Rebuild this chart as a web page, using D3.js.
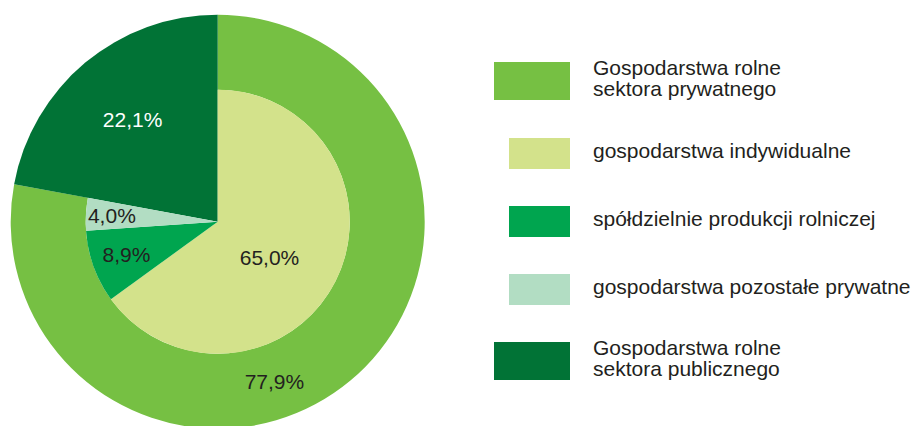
<!DOCTYPE html>
<html>
<head>
<meta charset="utf-8">
<script src="https://cdn.jsdelivr.net/npm/d3@7"></script>
<style>
  html, body { margin: 0; padding: 0; background: #fff; }
  svg { display: block; font-family: "Liberation Sans", Arial, Helvetica, sans-serif; }
</style>
</head>
<body>
<svg id="chart" width="915" height="426"></svg>
<script>
// outer ring: sectors
const sectorNames = ["Gospodarstwa rolne sektora prywatnego", "Gospodarstwa rolne sektora publicznego"];
const sectorValues = [77.9, 22.1];
const sectorLabels = ["77,9%", "22,1%"];

// inner pie: split of the private sector
const privateNames = ["gospodarstwa indywidualne", "spółdzielnie produkcji rolniczej", "gospodarstwa pozostałe prywatne"];
const privateValues = [65.0, 8.9, 4.0];
const privateLabels = ["65,0%", "8,9%", "4,0%"];

// legend lines, top to bottom
const legendLines = [
  ["Gospodarstwa rolne", "sektora prywatnego"],
  ["gospodarstwa indywidualne"],
  ["spółdzielnie produkcji rolniczej"],
  ["gospodarstwa pozostałe prywatne"],
  ["Gospodarstwa rolne", "sektora publicznego"]
];

const colors = {
  private: "#76c043",
  public: "#017336",
  indiv: "#d3e28b",
  coop: "#00a54f",
  other: "#b2ddc3"
};
const textColor = "#231f20";

const svg = d3.select("#chart");
const cx = 217.7, cy = 221.7;
const rOuter = 207, rInner = 132;

const g = svg.append("g").attr("transform", `translate(${cx},${cy})`);

const outerPie = d3.pie().sort(null).value(d => d)(sectorValues);
const innerPie = d3.pie().sort(null)
  .startAngle(0)
  .endAngle(outerPie[0].endAngle)
  .value(d => d)(privateValues);

// private sector ring
const ringArc = d3.arc().innerRadius(rInner).outerRadius(rOuter);
g.append("path")
  .attr("d", ringArc(outerPie[0]))
  .attr("fill", colors.private);

// public sector, full radius
const fullArc = d3.arc().innerRadius(0).outerRadius(rOuter);
g.append("path")
  .attr("d", fullArc(outerPie[1]))
  .attr("fill", colors.public);

// inner slices
const innerColors = [colors.indiv, colors.coop, colors.other];
const innerArc = d3.arc().innerRadius(0).outerRadius(rInner);
g.append("g")
  .selectAll("path")
  .data(innerPie)
  .join("path")
  .attr("d", innerArc)
  .attr("fill", (d, i) => innerColors[i]);

// labels
function polar(angle, r) {
  return [Math.sin(angle) * r, -Math.cos(angle) * r];
}
const deg = Math.PI / 180;
const midA = d => (d.startAngle + d.endAngle) / 2;
const innerLabelR = [63, 97, 106];
const innerLabelShift = [7.7, 0, 0]; // degrees

const labels = [];
innerPie.forEach((d, i) => {
  labels.push({
    text: privateLabels[i],
    pos: polar(midA(d) + innerLabelShift[i] * deg, innerLabelR[i]),
    fill: textColor
  });
});
labels.push({ text: sectorLabels[1], pos: polar(midA(outerPie[1]), 133), fill: "#fff" });
// private ring label sits low on the ring, not at its middle
labels.push({ text: sectorLabels[0], pos: polar(160.5 * deg, 170), fill: textColor });

g.append("g")
  .selectAll("text")
  .data(labels)
  .join("text")
  .attr("x", d => d.pos[0])
  .attr("y", d => d.pos[1])
  .attr("dy", "0.36em")
  .attr("text-anchor", "middle")
  .attr("font-size", 21)
  .attr("fill", d => d.fill)
  .text(d => d.text);

// legend
const legendBoxes = [
  { x: 494, y: 62, w: 76, h: 38, c: colors.private },
  { x: 509, y: 138, w: 61, h: 31, c: colors.indiv },
  { x: 509, y: 206, w: 61, h: 31, c: colors.coop },
  { x: 509, y: 274, w: 61, h: 31, c: colors.other },
  { x: 494, y: 342, w: 76, h: 38, c: colors.public }
];

const legend = svg.append("g");
legendBoxes.forEach((b, i) => {
  legend.append("rect")
    .attr("x", b.x).attr("y", b.y)
    .attr("width", b.w).attr("height", b.h)
    .attr("fill", b.c);
  const lines = legendLines[i];
  const t = legend.append("text")
    .attr("x", 593)
    .attr("font-size", 21)
    .attr("fill", textColor);
  const base = lines.length === 2 ? b.y + 12.5 : b.y + 20;
  lines.forEach((ln, j) => {
    t.append("tspan")
      .attr("x", 593)
      .attr("y", base + j * 21)
      .text(ln);
  });
});
</script>
</body>
</html>
